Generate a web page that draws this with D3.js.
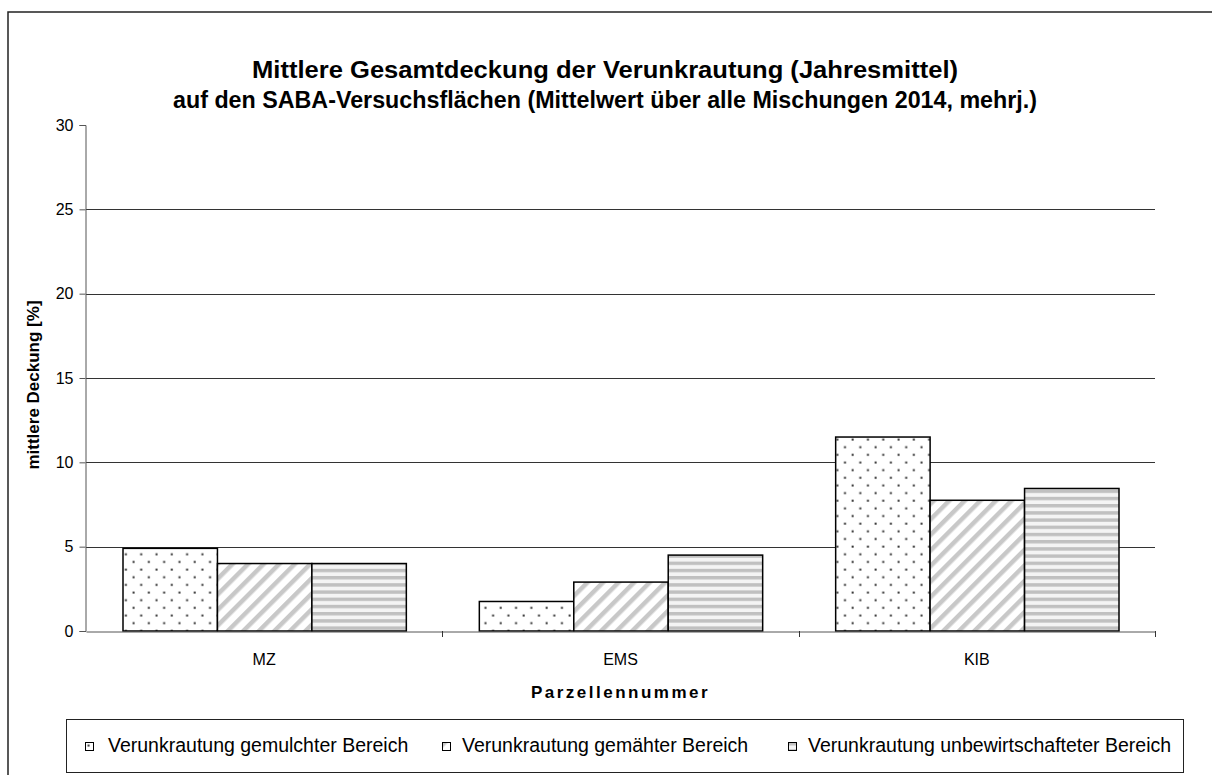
<!DOCTYPE html>
<html><head><meta charset="utf-8">
<script src="https://cdn.jsdelivr.net/npm/d3@7/dist/d3.min.js"></script>
<style>body{margin:0;background:#fff}svg{display:block}text{font-family:"Liberation Sans",Arial,sans-serif}</style>
</head><body><svg id="c" width="1212" height="775"></svg>
<script>
const categories = ["MZ", "EMS", "KIB"];
const seriesNames = ["Verunkrautung gemulchter Bereich", "Verunkrautung gemähter Bereich", "Verunkrautung unbewirtschafteter Bereich"];
const gemulcht = [4.9, 1.75, 11.5];
const gemaeht = [4.0, 2.9, 7.75];
const unbewirtschaftet = [4.0, 4.5, 8.45];
const yTicks = [0, 5, 10, 15, 20, 25, 30];
const titleLines = ["Mittlere Gesamtdeckung der Verunkrautung (Jahresmittel)", "auf den SABA-Versuchsflächen (Mittelwert über alle Mischungen 2014, mehrj.)"];
const yTitle = "mittlere Deckung [%]";
const xTitle = "Parzellennummer";

(function(){
const series = [gemulcht, gemaeht, unbewirtschaftet];
const svg = d3.select("#c");
const defs = svg.append("defs");
const FF = "Liberation Sans, Arial, sans-serif";

// patterns
const pDots = defs.append("pattern").attr("id","p0").attr("patternUnits","userSpaceOnUse").attr("width",15.3).attr("height",15.3);
pDots.append("rect").attr("width",15.3).attr("height",15.3).attr("fill","#fff");
pDots.append("rect").attr("x",2.5).attr("y",2.5).attr("width",2).attr("height",2).attr("fill","#333");
pDots.append("rect").attr("x",10.15).attr("y",10.15).attr("width",2).attr("height",2).attr("fill","#333");

const pDiag = defs.append("pattern").attr("id","p1").attr("patternUnits","userSpaceOnUse").attr("width",11).attr("height",11).attr("patternTransform","rotate(45)");
pDiag.append("rect").attr("width",11).attr("height",11).attr("fill","#fff");
pDiag.append("rect").attr("x",0).attr("width",4.5).attr("height",11).attr("fill","#c8c8c8");

const pHor = defs.append("pattern").attr("id","p2").attr("patternUnits","userSpaceOnUse").attr("width",10).attr("height",7.2);
pHor.append("rect").attr("width",10).attr("height",7.2).attr("fill","#f4f4f4");
pHor.append("rect").attr("y",0).attr("width",10).attr("height",3.4).attr("fill","#c0c0c0");

const fills = ["url(#p0)","url(#p1)","url(#p2)"];

// outer border
svg.append("rect").attr("x",8).attr("y",12).attr("width",1230).attr("height",800).attr("fill","none").attr("stroke","#222").attr("stroke-width",1.5);

const L = 86, R = 1155, T = 125, B = 631;
const x0 = d3.scaleBand().domain(categories).range([L, R]).paddingInner(0).paddingOuter(0);
const x1 = d3.scaleBand().domain(d3.range(series.length)).range([37, x0.bandwidth() - 36]).padding(0);
const y = d3.scaleLinear().domain([0, 30]).range([B, T]);

// gridlines
svg.append("g").selectAll("line").data(yTicks.filter(t => t > 0 && t < 30)).join("line")
  .attr("x1", L).attr("x2", R).attr("y1", d => Math.round(y(d))+0.5).attr("y2", d => Math.round(y(d))+0.5)
  .attr("stroke", "#333").attr("stroke-width", 1);

// bars
const g = svg.append("g");
categories.forEach((c, ci) => {
  series.forEach((s, si) => {
    g.append("rect")
      .attr("x", x0(c) + x1(si))
      .attr("y", y(s[ci]))
      .attr("width", x1.bandwidth())
      .attr("height", y(0) - y(s[ci]))
      .attr("fill", fills[si])
      .attr("stroke", "#000").attr("stroke-width", 1.5);
  });
});

// y axis
const yAxis = d3.axisLeft(y).tickValues(yTicks).tickSize(6).tickPadding(6);
const ya = svg.append("g").attr("transform", `translate(${L-0.5},0)`).call(yAxis);
ya.select(".domain").attr("stroke", "#555");
ya.selectAll(".tick line").attr("stroke", "#555");
ya.selectAll(".tick text").attr("font-size", 16).attr("fill", "#000").attr("font-family", FF);

// x axis
const xAxis = d3.axisBottom(x0).tickSize(0).tickPadding(22);
const xa = svg.append("g").attr("transform", `translate(0,${B+0.5})`).call(xAxis);
xa.select(".domain").attr("stroke", "#555");
xa.selectAll(".tick text").attr("font-size", 16).attr("fill", "#000").attr("font-family", FF);
// category boundary ticks
const bounds = categories.map(c => x0(c)).concat([R]).slice(1);
svg.append("g").selectAll("line").data(bounds).join("line")
  .attr("x1", d => Math.round(d)+0.5).attr("x2", d => Math.round(d)+0.5)
  .attr("y1", B).attr("y2", B + 6).attr("stroke", "#333");

// titles
const titleW = [706, 864];
svg.append("g").selectAll("text").data(titleLines).join("text")
  .attr("x", 605).attr("y", (d, i) => 78 + i * 30)
  .attr("text-anchor", "middle").attr("font-size", 23).attr("font-weight", "bold")
  .attr("textLength", (d, i) => titleW[i]).attr("lengthAdjust", "spacingAndGlyphs").text(d => d);

svg.append("text").attr("transform", `translate(39,385) rotate(-90)`)
  .attr("text-anchor", "middle").attr("font-size", 17).attr("font-weight", "bold").text(yTitle);

svg.append("text").attr("x", (L+R)/2).attr("y", 698)
  .attr("text-anchor", "middle").attr("font-size", 17).attr("font-weight", "bold").attr("letter-spacing", 2.5).text(xTitle);

// legend
svg.append("rect").attr("x", 66.5).attr("y", 719.5).attr("width", 1117).attr("height", 53).attr("fill", "#fff").attr("stroke", "#222").attr("stroke-width", 1);
const legX = [85, 442, 788];
const lg = svg.append("g").selectAll("g").data(seriesNames).join("g")
  .attr("transform", (d, i) => `translate(${legX[i]},742)`);
lg.append("rect").attr("x",0.5).attr("y",0.5).attr("width", 8).attr("height", 8).attr("fill", (d,i) => fills[i]).attr("stroke", "#000").attr("stroke-width", 1);
lg.append("text").attr("x", (d,i) => i === 0 ? 23 : 20).attr("y", 9.5).attr("font-size", 19.5).text(d => d);
})();
</script></body></html>
